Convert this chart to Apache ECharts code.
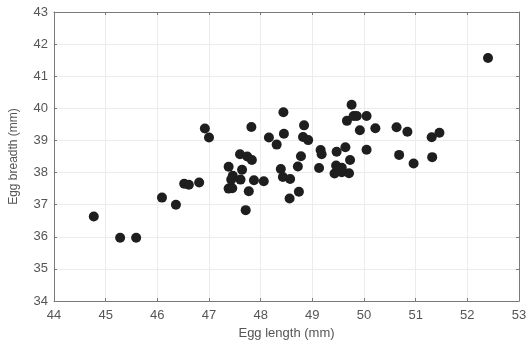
<!DOCTYPE html>
<html>
<head>
<meta charset="utf-8">
<script src="https://cdn.jsdelivr.net/npm/echarts@6/dist/echarts.min.js"></script>
<style>
  html, body { margin: 0; padding: 0; background: #fff; }
  #chart { width: 532px; height: 349px; }
</style>
</head>
<body>
<div id="chart"></div>
<script>
// egg length (mm)
const eggLength = [
  44.77, 45.28, 45.59, 46.09, 46.36, 46.52, 46.61, 46.81, 46.92, 47.00,
  47.38, 47.38, 47.45, 47.46, 47.43, 47.61, 47.64, 47.60, 47.74, 47.83,
  47.82, 47.71, 47.77, 47.87, 48.06, 48.16, 48.31, 48.44, 48.45, 48.39,
  48.43, 48.57, 48.72, 48.74, 48.56, 48.78, 48.84, 48.82, 48.92, 49.16,
  49.18, 49.13, 49.47, 49.64, 49.73, 49.46, 49.57, 49.43, 49.57, 49.71,
  49.76, 49.67, 49.80, 49.86, 50.05, 49.92, 50.22, 50.05, 50.63, 50.84,
  50.68, 50.96, 51.31, 51.46, 51.32, 52.40
];
// egg breadth (mm), same order
const eggBreadth = [
  36.63, 35.97, 35.97, 37.22, 37.00, 37.65, 37.62, 37.69, 39.37, 39.09,
  38.18, 37.50, 37.51, 37.90, 37.78, 37.78, 38.09, 38.57, 38.50, 38.39,
  39.42, 36.83, 37.42, 37.76, 37.73, 39.09, 38.87, 39.88, 39.21, 38.11,
  37.86, 37.80, 38.19, 37.40, 37.19, 38.51, 39.47, 39.11, 39.01, 38.70,
  38.57, 38.14, 38.65, 38.79, 38.39, 38.22, 38.15, 37.97, 38.01, 37.98,
  40.11, 39.61, 39.76, 39.76, 39.76, 39.32, 39.38, 38.71, 39.41, 39.27,
  38.55, 38.28, 39.10, 39.24, 38.48, 41.57
];
const xTitle = 'Egg length (mm)';
const yTitle = 'Egg breadth (mm)';

const points = eggLength.map((x, i) => [x, eggBreadth[i]]);

const chart = echarts.init(document.getElementById('chart'));

const labelStyle = { color: '#555', fontSize: 13, fontFamily: 'Liberation Sans, Arial, sans-serif' };
const lineStyle = { color: '#7a7a7a', width: 1 };

const option = {
  animation: false,
  grid: { left: 54, right: 13, top: 12, bottom: 48 },
  xAxis: [
    {
      type: 'value', min: 44, max: 53, interval: 1,
      name: xTitle, nameLocation: 'middle', nameGap: 24,
      nameTextStyle: { color: '#555', fontSize: 13, fontFamily: 'Liberation Sans, Arial, sans-serif' },
      axisLine: { show: true, lineStyle },
      axisTick: { show: true, inside: true, length: 3, lineStyle },
      axisLabel: { ...labelStyle, margin: 8 },
      splitLine: { show: true, lineStyle: { color: '#ececec' } }
    },
    {
      type: 'value', min: 44, max: 53, interval: 1, position: 'top',
      axisLine: { show: true, onZero: false, lineStyle },
      axisTick: { show: true, inside: true, length: 3, lineStyle },
      axisLabel: { show: false },
      splitLine: { show: false }
    }
  ],
  yAxis: [
    {
      type: 'value', min: 34, max: 43, interval: 1,
      name: yTitle, nameLocation: 'middle', nameGap: 34, nameRotate: 90,
      nameTextStyle: { color: '#555', fontSize: 12, fontFamily: 'Liberation Sans, Arial, sans-serif' },
      axisLine: { show: true, lineStyle },
      axisTick: { show: true, inside: true, length: 3, lineStyle },
      axisLabel: { ...labelStyle, margin: 6 },
      splitLine: { show: true, lineStyle: { color: '#ececec' } }
    },
    {
      type: 'value', min: 34, max: 43, interval: 1, position: 'right',
      axisLine: { show: true, onZero: false, lineStyle },
      axisTick: { show: true, inside: true, length: 3, lineStyle },
      axisLabel: { show: false },
      splitLine: { show: false }
    }
  ],
  series: [
    {
      type: 'scatter',
      data: points,
      symbol: 'circle',
      symbolSize: 10,
      itemStyle: { color: '#1e1e1e', opacity: 1 }
    }
  ]
};

chart.setOption(option);
</script>
</body>
</html>
